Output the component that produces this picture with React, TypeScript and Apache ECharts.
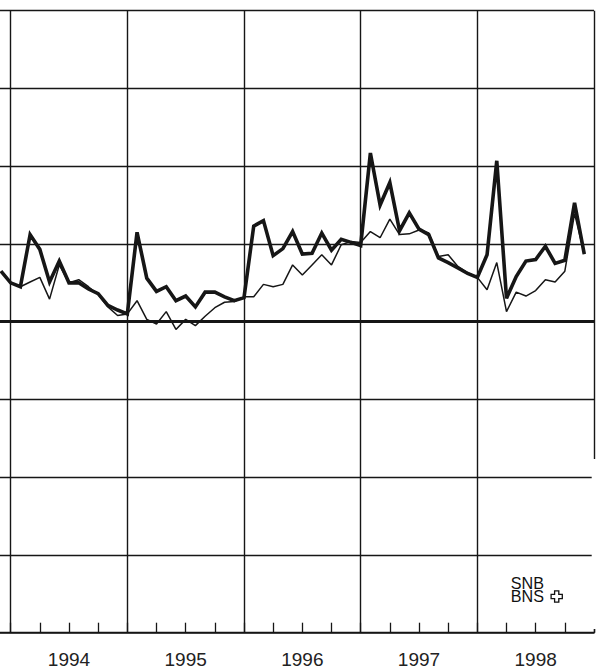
import React, { useEffect, useRef } from "react";
import * as echarts from "echarts";

// months counted from January 1994 (index 0 = 1994 year line); first point is one month earlier
const firstMonth = -1;
// the 1993 band lies off the picture, so its label is left empty
const yearLabels = ["", "1994", "1995", "1996", "1997", "1998"];

const thickValues = [
  0.65, 0.5, 0.45, 1.12, 0.93, 0.51, 0.78, 0.5, 0.5, 0.42, 0.36, 0.21, 0.15, 0.1,
  1.15, 0.56, 0.39, 0.45, 0.27, 0.33, 0.19, 0.38, 0.38, 0.32, 0.27, 0.31,
  1.23, 1.3, 0.85, 0.94, 1.16, 0.87, 0.88, 1.14, 0.92, 1.06, 1.02, 0.98,
  2.17, 1.5, 1.79, 1.17, 1.4, 1.19, 1.12, 0.82, 0.76, 0.69, 0.62, 0.57,
  0.86, 2.07, 0.3, 0.58, 0.78, 0.8, 0.97, 0.75, 0.79, 1.53, 0.87,
];

const thinValues = [
  0.65, 0.5, 0.45, 0.51, 0.57, 0.29, 0.73, 0.5, 0.54, 0.45, 0.35, 0.19, 0.08, 0.1,
  0.27, 0.03, -0.03, 0.13, -0.1, 0.03, -0.05, 0.07, 0.18, 0.25, 0.26, 0.32,
  0.32, 0.48, 0.45, 0.48, 0.73, 0.6, 0.73, 0.86, 0.73, 0.99, 1.03, 1.02,
  1.16, 1.08, 1.32, 1.12, 1.13, 1.18, 1.14, 0.84, 0.86, 0.71, 0.63, 0.57,
  0.41, 0.76, 0.13, 0.38, 0.33, 0.4, 0.54, 0.51, 0.65, 1.39, 0.87,
];

const INK = "#161616";
const SHIFT = 106.2; // the chart canvas starts this far left of the page

export default function App() {
  const ref = useRef<HTMLDivElement>(null);

  useEffect(() => {
    if (!ref.current) return;
    const chart = echarts.init(ref.current, null, { renderer: "svg" });
    const toPairs = (vals: number[]) => vals.map((v, i) => [firstMonth + i, v]);

    const a = 2.1;
    const e = 5.6;
    const crossPts = [
      [-a, -e], [a, -e], [a, -a], [e, -a], [e, a], [a, a],
      [a, e], [-a, e], [-a, a], [-e, a], [-e, -a], [-a, -a],
    ];

    chart.setOption({
      animation: false,
      backgroundColor: "#ffffff",
      grid: { left: 0, right: 7, top: 10.7, bottom: 37.3, containLabel: false },
      xAxis: [
        {
          type: "value",
          min: -12,
          max: 60,
          interval: 12,
          position: "bottom",
          axisLine: { show: true, onZero: false, lineStyle: { color: INK, width: 1.6 } },
          axisTick: { show: true, inside: true, length: 10, lineStyle: { color: INK, width: 1.3 } },
          minorTick: { show: true, splitNumber: 4, length: 10, lineStyle: { color: INK, width: 1.3 } },
          axisLabel: { show: false },
          splitLine: { show: true, lineStyle: { color: INK, width: 1.4 } },
        },
        {
          type: "category",
          data: yearLabels,
          boundaryGap: true,
          position: "bottom",
          axisLine: { show: false },
          axisTick: { show: false },
          splitLine: { show: false },
          axisLabel: {
            show: true,
            margin: 17,
            fontSize: 19,
            color: "#222",
            fontFamily: "Liberation Sans, Arial, sans-serif",
          },
        },
      ],
      yAxis: {
        type: "value",
        min: -4,
        max: 4,
        interval: 1,
        axisLine: { show: false },
        axisTick: { show: false },
        axisLabel: { show: false },
        splitLine: { show: true, lineStyle: { color: INK, width: 1.3 } },
      },
      series: [
        {
          type: "line",
          xAxisIndex: 0,
          data: toPairs(thinValues),
          symbol: "none",
          lineStyle: { color: INK, width: 1.5 },
          z: 3,
        },
        {
          type: "line",
          xAxisIndex: 0,
          data: toPairs(thickValues),
          symbol: "none",
          lineStyle: { color: INK, width: 3.6, join: "miter" },
          z: 4,
          markLine: {
            silent: true,
            symbol: ["none", "none"],
            label: { show: false },
            lineStyle: { color: INK, width: 3, type: "solid" },
            data: [{ yAxis: 0 }],
          },
        },
      ],
      graphic: [
        {
          type: "rect",
          z: 100,
          shape: { x: 591.5 + SHIFT, y: 459, width: 6, height: 170 },
          style: { fill: "#ffffff" },
        },
        {
          type: "text",
          z: 101,
          x: 510.5 + SHIFT,
          y: 574.5,
          scaleX: 0.95,
          style: {
            text: "SNB",
            fontSize: 17,
            fontFamily: "Liberation Sans, Arial, sans-serif",
            fill: "#111",
          },
        },
        {
          type: "text",
          z: 101,
          x: 510.5 + SHIFT,
          y: 587.5,
          scaleX: 0.95,
          style: {
            text: "BNS",
            fontSize: 17,
            fontFamily: "Liberation Sans, Arial, sans-serif",
            fill: "#111",
          },
        },
        {
          type: "polygon",
          z: 101,
          x: 556.5 + SHIFT,
          y: 596.5,
          shape: { points: crossPts },
          style: { fill: "#fff", stroke: "#111", lineWidth: 1.3 },
        },
      ],
    });

    return () => chart.dispose();
  }, []);

  return (
    <div
      ref={ref}
      style={{
        position: "absolute",
        left: -SHIFT,
        top: 0,
        width: 601 + SHIFT,
        height: 670,
        background: "#fff",
      }}
    />
  );
}
